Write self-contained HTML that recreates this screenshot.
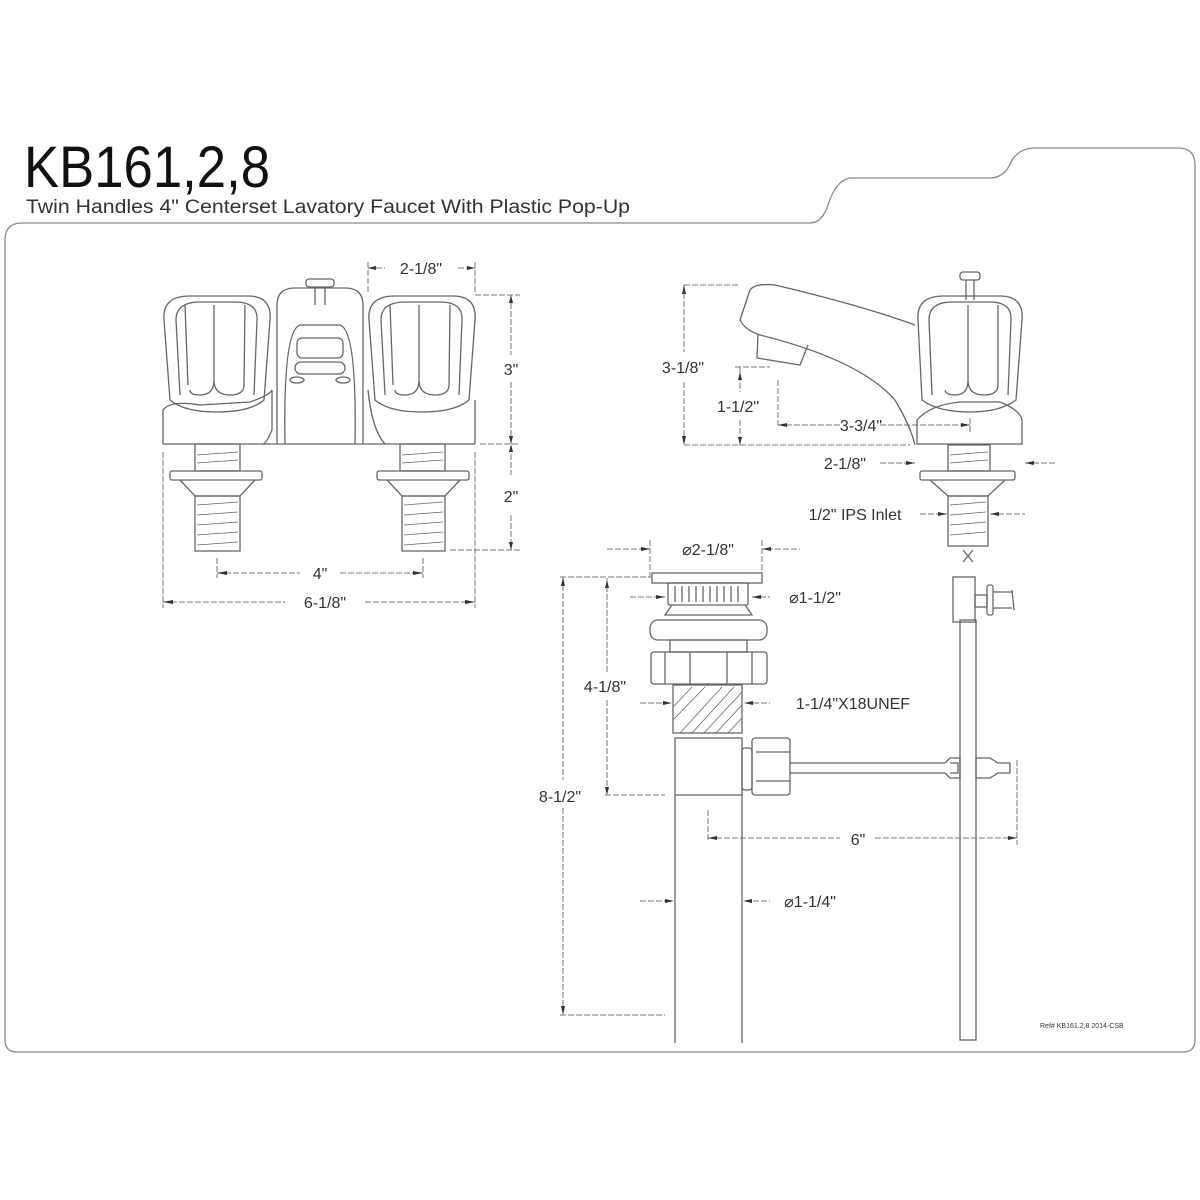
<!DOCTYPE html>
<html><head><meta charset="utf-8"><style>
html,body{margin:0;padding:0;background:#fff;}
svg{display:block}
text{font-family:"Liberation Sans",sans-serif;fill:#333;}
</style></head><body>
<svg width="1200" height="1200" viewBox="0 0 1200 1200" xmlns="http://www.w3.org/2000/svg">
<g fill="none" stroke="#8a8a8a" stroke-width="1.3">
<!-- frame -->
<path d="M22,223 L810,223 Q822,223 828,205 Q836,180 850,178 L990,178 Q1005,178 1012,160 Q1020,148 1035,148 L1178,148 Q1195,148 1195,165 L1195,1040 Q1195,1052 1183,1052 L17,1052 Q5,1052 5,1040 L5,240 Q5,223 22,223 Z"/>
</g>
<text x="24" y="187" font-size="58" style="fill:#111" textLength="246" lengthAdjust="spacingAndGlyphs">KB161,2,8</text>
<text x="26" y="213" font-size="19" textLength="604" lengthAdjust="spacingAndGlyphs">Twin Handles 4" Centerset Lavatory Faucet With Plastic Pop-Up</text>

<g fill="none" stroke="#666" stroke-width="1.3">
<!-- FRONT VIEW -->
<!-- popup knob -->
<rect x="306" y="279" width="28" height="8" rx="3"/>
<line x1="315" y1="287" x2="315" y2="305"/><line x1="325" y1="287" x2="325" y2="305"/>
<!-- spout body -->
<path d="M277,444 L277,305 Q277,288 295,288 L345,288 Q363,288 363,305 L363,444"/>
<path d="M285,444 Q283,330 300,325 L340,325 Q357,330 355,444"/>
<rect x="297" y="338" width="46" height="20" rx="5"/>
<rect x="295" y="362" width="50" height="12" rx="6"/>
<ellipse cx="297" cy="380" rx="7" ry="3"/><ellipse cx="343" cy="380" rx="7" ry="3"/>
<!-- left handle -->
<path d="M170,400 L164,320 Q162,296 190,296 L248,296 Q272,296 270,320 L264,400 Q250,412 217,412 Q184,412 170,400 Z"/>
<path d="M180,395 L176,320 Q176,302 200,302 L235,302 Q258,302 257,320 L254,395"/>
<path d="M190,390 Q190,395 200,395 Q214,395 214,380 L214,305 M214,380 Q214,395 230,395 Q244,395 244,385 L245,305 M185,305 L188,385"/>
<path d="M163,444 L163,410 Q170,400 200,405 L250,402 Q270,395 272,390 L272,430 Q266,444 263,444"/>
<!-- right handle -->
<path d="M375,400 L369,320 Q367,296 395,296 L453,296 Q477,296 475,320 L469,400 Q455,412 422,412 Q389,412 375,400 Z"/>
<path d="M385,395 L381,320 Q381,302 405,302 L440,302 Q463,302 462,320 L459,395"/>
<path d="M395,390 Q395,395 405,395 Q419,395 419,380 L419,305 M419,380 Q419,395 435,395 Q449,395 449,385 L450,305 M390,305 L393,385"/>
<path d="M368,390 Q372,430 385,444 M475,444 L475,400"/>
<line x1="163" y1="444" x2="475" y2="444"/>
<!-- stems -->
<rect x="195" y="444" width="45" height="27"/><rect x="400" y="444" width="45" height="27"/>
<rect x="170" y="471" width="92" height="9" rx="2"/><rect x="377" y="471" width="92" height="9" rx="2"/>
<path d="M180,480 L195,496 L240,496 L255,480"/><path d="M387,480 L402,496 L445,496 L460,480"/>
<rect x="195" y="496" width="45" height="55"/><rect x="402" y="496" width="43" height="55"/>
<path d="M197,505 L238,502 M197,515 L238,512 M197,525 L238,522 M197,535 L238,532 M197,545 L238,542 M404,505 L443,502 M404,515 L443,512 M404,525 L443,522 M404,535 L443,532 M404,545 L443,542 M197,455 L238,452 M197,463 L238,460 M402,455 L443,452 M402,463 L443,460" stroke-width="0.8"/>
</g>

<!-- dimension lines -->
<g fill="none" stroke="#777" stroke-width="1" stroke-dasharray="6,2">
<!-- front dims -->
<line x1="368" y1="262" x2="368" y2="292"/><line x1="475" y1="262" x2="475" y2="292"/>
<line x1="368" y1="268" x2="385" y2="268"/><line x1="458" y1="268" x2="475" y2="268"/>
<line x1="475" y1="295" x2="520" y2="295"/><line x1="480" y1="444" x2="520" y2="444"/><line x1="450" y1="550" x2="520" y2="550"/>
<line x1="511" y1="295" x2="511" y2="355"/><line x1="511" y1="382" x2="511" y2="475"/><line x1="511" y1="515" x2="511" y2="550"/>
<line x1="217" y1="558" x2="217" y2="578"/><line x1="423" y1="558" x2="423" y2="578"/>
<line x1="217" y1="573" x2="300" y2="573"/><line x1="340" y1="573" x2="423" y2="573"/>
<line x1="163" y1="452" x2="163" y2="608"/><line x1="475" y1="452" x2="475" y2="608"/>
<line x1="163" y1="602" x2="285" y2="602"/><line x1="365" y1="602" x2="475" y2="602"/>
<!-- side dims -->
<line x1="684" y1="285" x2="740" y2="285"/><line x1="684" y1="445" x2="910" y2="445"/>
<line x1="684" y1="285" x2="684" y2="352"/><line x1="684" y1="382" x2="684" y2="445"/>
<line x1="735" y1="367" x2="770" y2="367"/><line x1="740" y1="367" x2="740" y2="392"/><line x1="740" y1="420" x2="740" y2="445"/>
<line x1="778" y1="380" x2="778" y2="425"/><line x1="778" y1="425" x2="840" y2="425"/><line x1="880" y1="425" x2="970" y2="425"/><line x1="970" y1="418" x2="970" y2="432"/>
<line x1="880" y1="463" x2="915" y2="463"/><line x1="1025" y1="463" x2="1055" y2="463"/>
<line x1="920" y1="514" x2="947" y2="514"/><line x1="990" y1="514" x2="1025" y2="514"/>
<!-- popup dims -->
<line x1="607" y1="549" x2="650" y2="549"/><line x1="767" y1="549" x2="800" y2="549"/>
<line x1="650" y1="540" x2="650" y2="580"/><line x1="762" y1="540" x2="762" y2="580"/>
<line x1="630" y1="597" x2="665" y2="597"/><line x1="752" y1="597" x2="770" y2="597"/>
<line x1="560" y1="577" x2="650" y2="577"/><line x1="563" y1="577" x2="563" y2="780"/><line x1="563" y1="808" x2="563" y2="1015"/><line x1="560" y1="1015" x2="665" y2="1015"/>
<line x1="607" y1="578" x2="607" y2="672"/><line x1="607" y1="700" x2="607" y2="795"/><line x1="605" y1="795" x2="665" y2="795"/>
<line x1="640" y1="703" x2="670" y2="703"/><line x1="745" y1="703" x2="770" y2="703"/>
<line x1="708" y1="810" x2="708" y2="840"/><line x1="708" y1="838" x2="840" y2="838"/><line x1="875" y1="838" x2="1017" y2="838"/><line x1="1017" y1="760" x2="1017" y2="845"/>
<line x1="640" y1="901" x2="672" y2="901"/><line x1="745" y1="901" x2="770" y2="901"/>
</g>
<!-- arrowheads -->
<g fill="#333">
<path d="M368,268 l8,-2 v4z M475,268 l-8,-2 v4z M511,295 l-2,8 h4z M511,444 l-2,-8 h4z M511,444 l-2,8 h4z M511,550 l-2,-8 h4z M217,573 l10,-2 v4z M423,573 l-10,-2 v4z M163,602 l10,-2 v4z M475,602 l-10,-2 v4z"/>
<path d="M684,285 l-2,9 h4z M684,445 l-2,-9 h4z M740,372 l-2,8 h4z M740,445 l-2,-8 h4z M778,425 l9,-2 v4z M970,425 l-9,-2 v4z M915,463 l-9,-2 v4z M1025,463 l9,-2 v4z M947,514 l-9,-2 v4z M990,514 l9,-2 v4z"/>
<path d="M650,549 l-9,-2 v4z M762,549 l9,-2 v4z M665,597 l-9,-2 v4z M752,597 l9,-2 v4z M563,577 l-2,9 h4z M563,1015 l-2,-9 h4z M607,580 l-2,8 h4z M607,795 l-2,-8 h4z M672,703 l-9,-2 v4z M744,703 l9,-2 v4z M708,838 l9,-2 v4z M1017,838 l-9,-2 v4z M674,901 l-9,-2 v4z M743,901 l9,-2 v4z"/>
</g>

<g fill="none" stroke="#666" stroke-width="1.3">
<!-- SIDE VIEW -->
<path d="M750,290 Q755,283 775,285 Q860,305 915,325"/>
<path d="M750,290 L740,320 Q745,330 760,335 Q860,360 895,400 Q910,425 915,445"/>
<path d="M758,334 L757,358 L800,365 L808,345"/>
<rect x="960" y="272" width="20" height="8" rx="3"/><line x1="966" y1="280" x2="966" y2="300"/><line x1="974" y1="280" x2="974" y2="300"/>
<path d="M922,400 L918,320 Q916,296 944,296 L1000,296 Q1024,296 1022,320 L1016,400 Q1000,412 970,412 Q938,412 922,400 Z"/>
<path d="M932,395 L929,320 Q929,302 952,302 L990,302 Q1012,302 1011,320 L1008,395"/>
<path d="M945,390 Q946,395 955,395 Q968,395 968,380 L968,305 M968,380 Q968,395 984,395 Q998,395 998,385 L998,305"/>
<path d="M917,444 L917,420 Q930,405 960,402 L1000,402 Q1020,410 1022,420 L1022,444 Z"/>
<rect x="948" y="445" width="42" height="26"/>
<rect x="920" y="471" width="95" height="9" rx="2"/>
<path d="M930,480 L948,496 L988,496 L1005,480"/>
<rect x="948" y="496" width="40" height="50"/>
<path d="M950,505 L986,502 M950,515 L986,512 M950,525 L986,522 M950,535 L986,532 M950,455 L988,452 M950,463 L988,460" stroke-width="0.8"/>
<path d="M963,550 L973,562 M973,550 L963,562"/>
<!-- vertical rod -->
<rect x="953" y="577" width="22" height="45"/>
<rect x="960" y="620" width="16" height="420"/>
<rect x="975" y="595" width="12" height="12"/><rect x="987" y="585" width="6" height="30" rx="2"/><path d="M993,592 L1012,592 M993,608 L1012,608 M1012,590 L1014,610"/>
<!-- POPUP -->
<rect x="652" y="573" width="110" height="10"/>
<rect x="668" y="583" width="80" height="22" rx="2"/>
<path d="M675,586 v16 M682,586 v16 M689,586 v16 M696,586 v16 M703,586 v16 M710,586 v16 M717,586 v16 M724,586 v16 M731,586 v16 M738,586 v16"/>
<path d="M672,605 L665,615 L752,615 L745,605"/>
<rect x="650" y="620" width="117" height="20" rx="8"/>
<rect x="670" y="640" width="77" height="12"/>
<rect x="651" y="652" width="116" height="32" rx="3"/>
<line x1="665" y1="652" x2="665" y2="684"/><line x1="752" y1="652" x2="752" y2="684"/><line x1="690" y1="652" x2="690" y2="684"/><line x1="727" y1="652" x2="727" y2="684"/>
<rect x="673" y="685" width="69" height="48"/>
<path d="M680,733 L722,687 M692,733 L734,687 M704,733 L742,692 M716,733 L742,705 M728,733 L742,718 M673,720 L705,687 M673,707 L692,687" stroke-width="0.8"/>
<rect x="675" y="738" width="67" height="57"/>
<line x1="675" y1="795" x2="675" y2="1043"/><line x1="742" y1="795" x2="742" y2="1043"/>
<rect x="742" y="748" width="10" height="42" rx="3"/>
<rect x="752" y="738" width="38" height="57" rx="3"/>
<line x1="756" y1="752" x2="790" y2="752"/><line x1="756" y1="781" x2="790" y2="781"/>
<line x1="790" y1="763" x2="945" y2="763"/><line x1="790" y1="773" x2="945" y2="773"/>
<path d="M945,763 L950,758 L960,758 L960,778 L950,778 L945,773 M950,763 h8 v10 h-8"/>
<path d="M976,758 L990,758 L998,763 L1010,763 L1010,773 L998,773 L990,778 L976,778 Z"/>
</g>

<g font-size="16" text-anchor="middle">
<text x="421" y="274">2-1/8"</text>
<text x="511" y="375">3"</text>
<text x="511" y="502">2"</text>
<text x="320" y="579">4"</text>
<text x="325" y="608">6-1/8"</text>
<text x="683" y="373">3-1/8"</text>
<text x="738" y="412">1-1/2"</text>
<text x="861" y="431">3-3/4"</text>
<text x="845" y="469">2-1/8"</text>
<text x="855" y="520">1/2" IPS Inlet</text>
<text x="708" y="555">⌀2-1/8"</text>
<text x="815" y="603">⌀1-1/2"</text>
<text x="605" y="692">4-1/8"</text>
<text x="853" y="709">1-1/4"X18UNEF</text>
<text x="560" y="802">8-1/2"</text>
<text x="858" y="845">6"</text>
<text x="810" y="907">⌀1-1/4"</text>
</g>
<text x="1040" y="1028" font-size="7">Ref# KB161.2,8 2014-CSB</text>
</svg>
</body></html>
